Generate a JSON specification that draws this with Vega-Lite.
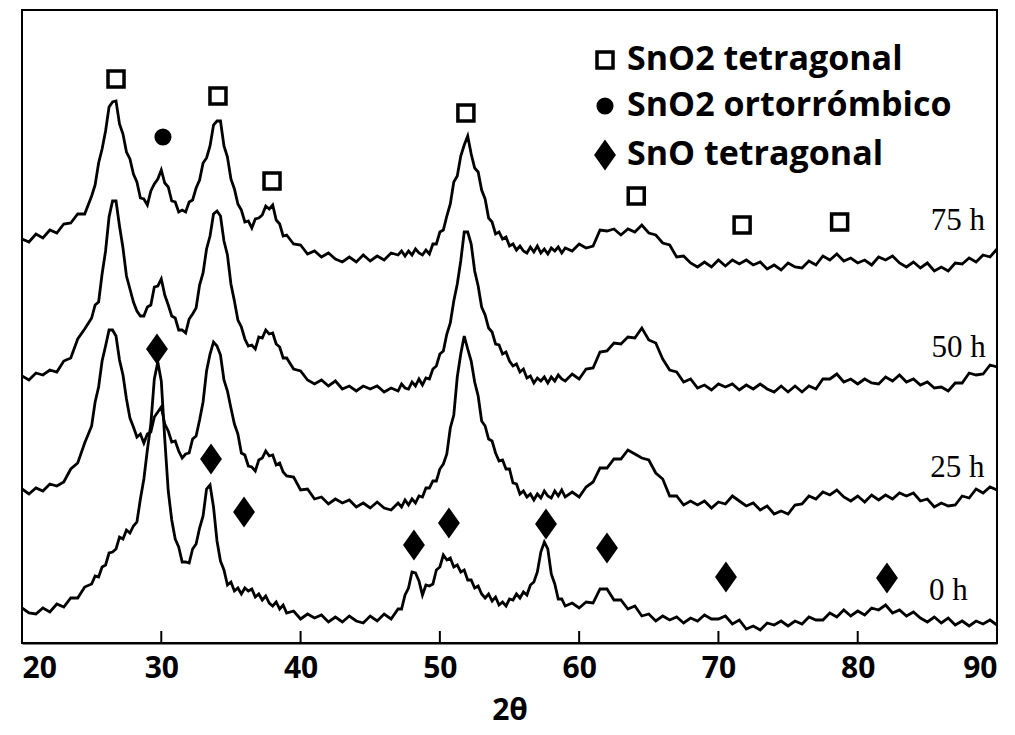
{
"$schema": "https://vega.github.io/schema/vega-lite/v6.json",
"width": 975, "height": 633,
"padding": {"left": 22, "top": 10, "right": 18, "bottom": 92},
"autosize": {"type": "none"},
"background": "white",
"config": {
  "view": {"stroke": "black", "strokeWidth": 2},
  "font": "Open Sans",
  "legend": {"orient": "none", "legendX": 566, "legendY": 33, "labelFont": "Open Sans", "labelFontWeight": "bold", "labelFontSize": 34, "labelColor": "black", "symbolSize": 256, "symbolStrokeColor": "black", "symbolStrokeWidth": 3.5, "rowPadding": 12, "labelOffset": 5, "labelLimit": 700, "symbolOpacity": 1}
},
"layer": [
{
  "data": {"values": [
{"x":20,"h75":404,"h50":267,"h25":154,"h0":35},
{"x":20.5,"h75":401,"h50":263,"h25":149,"h0":30},
{"x":21,"h75":409,"h50":270,"h25":155,"h0":29},
{"x":21.5,"h75":405,"h50":268,"h25":152,"h0":35},
{"x":22,"h75":413,"h50":273,"h25":159,"h0":31},
{"x":22.5,"h75":410,"h50":271,"h25":157,"h0":39},
{"x":23,"h75":419,"h50":282,"h25":161,"h0":36},
{"x":23.5,"h75":420,"h50":285,"h25":174,"h0":45},
{"x":24,"h75":429,"h50":304,"h25":180,"h0":45},
{"x":24.5,"h75":429,"h50":314,"h25":200,"h0":56},
{"x":25,"h75":447,"h50":325,"h25":217,"h0":59},
{"x":25.25,"h75":458,"h50":338,"h25":241,"h0":67},
{"x":25.5,"h75":480,"h50":341,"h25":256,"h0":66},
{"x":25.75,"h75":494,"h50":369,"h25":282,"h0":76},
{"x":26,"h75":512,"h50":392,"h25":297,"h0":78},
{"x":26.25,"h75":536,"h50":426,"h25":313,"h0":90},
{"x":26.5,"h75":541,"h50":442,"h25":313,"h0":91},
{"x":26.75,"h75":542,"h50":442,"h25":307,"h0":94},
{"x":27,"h75":519,"h50":417,"h25":283,"h0":106},
{"x":27.25,"h75":509,"h50":395,"h25":268,"h0":104},
{"x":27.5,"h75":491,"h50":367,"h25":244,"h0":113},
{"x":27.75,"h75":484,"h50":354,"h25":225,"h0":110},
{"x":28,"h75":469,"h50":341,"h25":216,"h0":117},
{"x":28.25,"h75":461,"h50":332,"h25":206,"h0":121},
{"x":28.5,"h75":445,"h50":327,"h25":209,"h0":144},
{"x":28.75,"h75":444,"h50":327,"h25":200,"h0":164},
{"x":29,"h75":438,"h50":336,"h25":209,"h0":193},
{"x":29.25,"h75":452,"h50":338,"h25":211,"h0":219},
{"x":29.5,"h75":459,"h50":356,"h25":226,"h0":264},
{"x":29.75,"h75":464,"h50":357,"h25":231,"h0":281},
{"x":30,"h75":473,"h50":364,"h25":236,"h0":262},
{"x":30.25,"h75":460,"h50":348,"h25":219,"h0":204},
{"x":30.5,"h75":456,"h50":338,"h25":212,"h0":152},
{"x":30.75,"h75":442,"h50":327,"h25":201,"h0":123},
{"x":31,"h75":441,"h50":325,"h25":202,"h0":104},
{"x":31.25,"h75":431,"h50":313,"h25":192,"h0":96},
{"x":31.5,"h75":433,"h50":313,"h25":185,"h0":81},
{"x":31.75,"h75":431,"h50":310,"h25":189,"h0":81},
{"x":32,"h75":441,"h50":324,"h25":190,"h0":80},
{"x":32.25,"h75":443,"h50":329,"h25":204,"h0":94},
{"x":32.5,"h75":455,"h50":335,"h25":207,"h0":99},
{"x":32.75,"h75":463,"h50":358,"h25":223,"h0":115},
{"x":33,"h75":480,"h50":370,"h25":241,"h0":127},
{"x":33.25,"h75":485,"h50":394,"h25":272,"h0":154},
{"x":33.5,"h75":497,"h50":407,"h25":289,"h0":158},
{"x":33.75,"h75":518,"h50":429,"h25":301,"h0":136},
{"x":34,"h75":522,"h50":432,"h25":297,"h0":102},
{"x":34.25,"h75":522,"h50":427,"h25":288,"h0":82},
{"x":34.5,"h75":497,"h50":402,"h25":263,"h0":73},
{"x":34.75,"h75":486,"h50":388,"h25":252,"h0":58},
{"x":35,"h75":464,"h50":359,"h25":235,"h0":61},
{"x":35.25,"h75":454,"h50":342,"h25":219,"h0":52},
{"x":35.5,"h75":439,"h50":323,"h25":209,"h0":55},
{"x":35.75,"h75":433,"h50":316,"h25":190,"h0":49},
{"x":36,"h75":421,"h50":304,"h25":188,"h0":55},
{"x":36.25,"h75":422,"h50":297,"h25":177,"h0":52},
{"x":36.5,"h75":415,"h50":298,"h25":176,"h0":54},
{"x":36.75,"h75":424,"h50":294,"h25":172,"h0":46},
{"x":37,"h75":425,"h50":306,"h25":183,"h0":49},
{"x":37.25,"h75":428,"h50":305,"h25":185,"h0":43},
{"x":37.5,"h75":437,"h50":313,"h25":192,"h0":47},
{"x":37.75,"h75":434,"h50":309,"h25":187,"h0":40},
{"x":38,"h75":438,"h50":310,"h25":188,"h0":37},
{"x":38.25,"h75":423,"h50":299,"h25":178,"h0":41},
{"x":38.5,"h75":419,"h50":296,"h25":180,"h0":34},
{"x":38.75,"h75":407,"h50":285,"h25":171,"h0":38},
{"x":39,"h75":408,"h50":285,"h25":167,"h0":30},
{"x":39.5,"h75":399,"h50":274,"h25":166,"h0":32},
{"x":40,"h75":398,"h50":272,"h25":153,"h0":24},
{"x":40.5,"h75":389,"h50":263,"h25":154,"h0":29},
{"x":41,"h75":392,"h50":259,"h25":144,"h0":25},
{"x":41.5,"h75":386,"h50":263,"h25":146,"h0":28},
{"x":42,"h75":390,"h50":257,"h25":139,"h0":21},
{"x":42.5,"h75":384,"h50":262,"h25":144,"h0":26},
{"x":43,"h75":381,"h50":254,"h25":140,"h0":21},
{"x":43.5,"h75":386,"h50":257,"h25":143,"h0":27},
{"x":44,"h75":381,"h50":252,"h25":136,"h0":22},
{"x":44.5,"h75":388,"h50":257,"h25":140,"h0":20},
{"x":45,"h75":382,"h50":254,"h25":135,"h0":27},
{"x":45.5,"h75":387,"h50":257,"h25":141,"h0":22},
{"x":46,"h75":383,"h50":251,"h25":135,"h0":29},
{"x":46.5,"h75":390,"h50":255,"h25":133,"h0":24},
{"x":47,"h75":388,"h50":252,"h25":140,"h0":34},
{"x":47.25,"h75":392,"h50":259,"h25":136,"h0":34},
{"x":47.5,"h75":387,"h50":255,"h25":143,"h0":48},
{"x":47.75,"h75":392,"h50":254,"h25":138,"h0":55},
{"x":48,"h75":388,"h50":261,"h25":144,"h0":71},
{"x":48.25,"h75":394,"h50":257,"h25":140,"h0":70},
{"x":48.5,"h75":390,"h50":264,"h25":147,"h0":62},
{"x":48.75,"h75":388,"h50":258,"h25":146,"h0":48},
{"x":49,"h75":393,"h50":265,"h25":155,"h0":58},
{"x":49.25,"h75":389,"h50":264,"h25":155,"h0":57},
{"x":49.5,"h75":399,"h50":274,"h25":162,"h0":59},
{"x":49.75,"h75":399,"h50":277,"h25":162,"h0":73},
{"x":50,"h75":411,"h50":289,"h25":174,"h0":76},
{"x":50.25,"h75":413,"h50":292,"h25":179,"h0":88},
{"x":50.5,"h75":427,"h50":309,"h25":189,"h0":83},
{"x":50.75,"h75":439,"h50":320,"h25":215,"h0":85},
{"x":51,"h75":461,"h50":342,"h25":228,"h0":76},
{"x":51.25,"h75":467,"h50":359,"h25":266,"h0":78},
{"x":51.5,"h75":487,"h50":382,"h25":289,"h0":71},
{"x":51.75,"h75":498,"h50":411,"h25":307,"h0":73},
{"x":52,"h75":507,"h50":411,"h25":294,"h0":63},
{"x":52.25,"h75":489,"h50":399,"h25":282,"h0":63},
{"x":52.5,"h75":475,"h50":372,"h25":261,"h0":55},
{"x":52.75,"h75":471,"h50":357,"h25":247,"h0":57},
{"x":53,"h75":453,"h50":336,"h25":222,"h0":49},
{"x":53.25,"h75":444,"h50":328,"h25":217,"h0":45},
{"x":53.5,"h75":425,"h50":315,"h25":204,"h0":49},
{"x":53.75,"h75":421,"h50":311,"h25":202,"h0":42},
{"x":54,"h75":409,"h50":299,"h25":190,"h0":46},
{"x":54.25,"h75":411,"h50":298,"h25":182,"h0":38},
{"x":54.5,"h75":404,"h50":289,"h25":183,"h0":41},
{"x":54.75,"h75":406,"h50":291,"h25":174,"h0":37},
{"x":55,"h75":397,"h50":282,"h25":174,"h0":44},
{"x":55.25,"h75":399,"h50":277,"h25":160,"h0":43},
{"x":55.5,"h75":393,"h50":279,"h25":159,"h0":49},
{"x":55.75,"h75":397,"h50":271,"h25":149,"h0":45},
{"x":56,"h75":392,"h50":274,"h25":152,"h0":51},
{"x":56.25,"h75":390,"h50":265,"h25":146,"h0":48},
{"x":56.5,"h75":396,"h50":267,"h25":149,"h0":58},
{"x":56.75,"h75":391,"h50":260,"h25":143,"h0":61},
{"x":57,"h75":397,"h50":265,"h25":149,"h0":71},
{"x":57.25,"h75":390,"h50":262,"h25":145,"h0":91},
{"x":57.5,"h75":394,"h50":266,"h25":152,"h0":101},
{"x":57.75,"h75":389,"h50":260,"h25":147,"h0":94},
{"x":58,"h75":395,"h50":266,"h25":145,"h0":69},
{"x":58.25,"h75":392,"h50":262,"h25":152,"h0":59},
{"x":58.5,"h75":396,"h50":268,"h25":147,"h0":44},
{"x":58.75,"h75":390,"h50":264,"h25":153,"h0":44},
{"x":59,"h75":395,"h50":262,"h25":146,"h0":37},
{"x":59.5,"h75":392,"h50":269,"h25":151,"h0":40},
{"x":60,"h75":399,"h50":264,"h25":146,"h0":35},
{"x":60.5,"h75":395,"h50":274,"h25":156,"h0":41},
{"x":61,"h75":397,"h50":275,"h25":161,"h0":40},
{"x":61.5,"h75":413,"h50":291,"h25":175,"h0":54},
{"x":62,"h75":412,"h50":292,"h25":175,"h0":54},
{"x":62.5,"h75":414,"h50":300,"h25":184,"h0":43},
{"x":63,"h75":408,"h50":299,"h25":184,"h0":43},
{"x":63.5,"h75":414,"h50":306,"h25":193,"h0":34},
{"x":64,"h75":411,"h50":305,"h25":189,"h0":37},
{"x":64.5,"h75":418,"h50":315,"h25":185,"h0":27},
{"x":65,"h75":410,"h50":303,"h25":183,"h0":29},
{"x":65.5,"h75":408,"h50":300,"h25":170,"h0":22},
{"x":66,"h75":400,"h50":284,"h25":164,"h0":27},
{"x":66.5,"h75":398,"h50":273,"h25":147,"h0":23},
{"x":67,"h75":386,"h50":271,"h25":147,"h0":26},
{"x":67.5,"h75":387,"h50":261,"h25":138,"h0":20},
{"x":68,"h75":380,"h50":264,"h25":142,"h0":25},
{"x":68.5,"h75":376,"h50":255,"h25":138,"h0":22},
{"x":69,"h75":381,"h50":258,"h25":142,"h0":28},
{"x":69.5,"h75":376,"h50":253,"h25":135,"h0":24},
{"x":70,"h75":383,"h50":259,"h25":141,"h0":24},
{"x":70.5,"h75":377,"h50":256,"h25":139,"h0":27},
{"x":71,"h75":383,"h50":259,"h25":147,"h0":19},
{"x":71.5,"h75":379,"h50":253,"h25":142,"h0":23},
{"x":72,"h75":383,"h50":258,"h25":137,"h0":14},
{"x":72.5,"h75":378,"h50":254,"h25":140,"h0":17},
{"x":73,"h75":381,"h50":259,"h25":133,"h0":13},
{"x":73.5,"h75":374,"h50":254,"h25":137,"h0":20},
{"x":74,"h75":378,"h50":251,"h25":129,"h0":18},
{"x":74.5,"h75":373,"h50":257,"h25":132,"h0":22},
{"x":75,"h75":380,"h50":251,"h25":129,"h0":17},
{"x":75.5,"h75":376,"h50":257,"h25":138,"h0":22},
{"x":76,"h75":375,"h50":251,"h25":139,"h0":19},
{"x":76.5,"h75":382,"h50":257,"h25":147,"h0":26},
{"x":77,"h75":378,"h50":254,"h25":144,"h0":23},
{"x":77.5,"h75":387,"h50":264,"h25":151,"h0":23},
{"x":78,"h75":383,"h50":264,"h25":148,"h0":30},
{"x":78.5,"h75":389,"h50":269,"h25":153,"h0":26},
{"x":79,"h75":382,"h50":261,"h25":146,"h0":33},
{"x":79.5,"h75":385,"h50":264,"h25":142,"h0":27},
{"x":80,"h75":380,"h50":259,"h25":147,"h0":32},
{"x":80.5,"h75":383,"h50":264,"h25":141,"h0":28},
{"x":81,"h75":378,"h50":260,"h25":148,"h0":35},
{"x":81.5,"h75":386,"h50":259,"h25":143,"h0":33},
{"x":82,"h75":383,"h50":266,"h25":148,"h0":38},
{"x":82.5,"h75":387,"h50":262,"h25":144,"h0":30},
{"x":83,"h75":380,"h50":268,"h25":150,"h0":33},
{"x":83.5,"h75":376,"h50":261,"h25":147,"h0":27},
{"x":84,"h75":381,"h50":264,"h25":150,"h0":31},
{"x":84.5,"h75":375,"h50":258,"h25":142,"h0":25},
{"x":85,"h75":380,"h50":261,"h25":144,"h0":21},
{"x":85.5,"h75":372,"h50":255,"h25":136,"h0":26},
{"x":86,"h75":376,"h50":256,"h25":140,"h0":20},
{"x":86.5,"h75":372,"h50":252,"h25":137,"h0":25},
{"x":87,"h75":380,"h50":260,"h25":138,"h0":18},
{"x":87.5,"h75":379,"h50":260,"h25":147,"h0":22},
{"x":88,"h75":385,"h50":270,"h25":145,"h0":17},
{"x":88.5,"h75":381,"h50":268,"h25":154,"h0":22},
{"x":89,"h75":388,"h50":269,"h25":150,"h0":19},
{"x":89.5,"h75":386,"h50":278,"h25":156,"h0":23},
{"x":90,"h75":394,"h50":276,"h25":153,"h0":18}
  ]},
  "transform": [{"fold": ["h75", "h50", "h25", "h0"], "as": ["series", "intensity"]}],
  "mark": {"type": "line", "color": "black", "strokeWidth": 2.8, "clip": true},
  "encoding": {
    "x": {"field": "x", "type": "quantitative", "scale": {"domain": [20, 90], "nice": false, "zero": false},
      "axis": {"values": [20, 30, 40, 50, 60, 70, 80, 90], "title": "2θ", "grid": false, "labelFlush": true, "ticks": false,
        "labelFont": "Open Sans", "labelFontWeight": "bold", "labelFontSize": 30, "labelColor": "black", "labelPadding": 10,
        "domainColor": "black", "domainWidth": 2,
        "titleFont": "Open Sans", "titleFontWeight": "bold", "titleFontSize": 30, "titleColor": "black", "titlePadding": 12}},
    "y": {"field": "intensity", "type": "quantitative", "scale": {"domain": [0, 633], "nice": false, "zero": false}, "axis": null},
    "detail": {"field": "series"}
  }
},
{
  "data": {"values": [{"t": 30}, {"t": 40}, {"t": 50}, {"t": 60}, {"t": 70}, {"t": 80}]},
  "mark": {"type": "rule", "color": "black", "strokeWidth": 2},
  "encoding": {
    "x": {"field": "t", "type": "quantitative"},
    "y": {"datum": 0},
    "y2": {"datum": 12}
  }
},
{
  "data": {"values": [
    {"phase": "SnO2 tetragonal", "x": 26.75, "y": 564},
    {"phase": "SnO2 tetragonal", "x": 34.07, "y": 547},
    {"phase": "SnO2 tetragonal", "x": 37.95, "y": 462},
    {"phase": "SnO2 tetragonal", "x": 51.87, "y": 530},
    {"phase": "SnO2 tetragonal", "x": 64.1, "y": 447},
    {"phase": "SnO2 tetragonal", "x": 71.7, "y": 418},
    {"phase": "SnO2 tetragonal", "x": 78.7, "y": 421},
    {"phase": "SnO2 ortorrómbico", "x": 30.12, "y": 506},
    {"phase": "SnO tetragonal", "x": 29.69, "y": 294},
    {"phase": "SnO tetragonal", "x": 33.57, "y": 184},
    {"phase": "SnO tetragonal", "x": 35.94, "y": 131},
    {"phase": "SnO tetragonal", "x": 48.14, "y": 98},
    {"phase": "SnO tetragonal", "x": 50.65, "y": 120},
    {"phase": "SnO tetragonal", "x": 57.62, "y": 119},
    {"phase": "SnO tetragonal", "x": 62.0, "y": 95},
    {"phase": "SnO tetragonal", "x": 70.54, "y": 66},
    {"phase": "SnO tetragonal", "x": 82.1, "y": 65}
  ]},
  "mark": {"type": "point", "filled": true, "stroke": "black", "strokeWidth": 3.5, "opacity": 1, "size": 256},
  "encoding": {
    "x": {"field": "x", "type": "quantitative"},
    "y": {"field": "y", "type": "quantitative"},
    "shape": {"field": "phase", "type": "nominal",
      "scale": {"domain": ["SnO2 tetragonal", "SnO2 ortorrómbico", "SnO tetragonal"], "range": ["M-1,-1H1V1H-1Z", "M-0.85,0A0.85,0.85 0 1,0 0.85,0A0.85,0.85 0 1,0 -0.85,0Z", "M0,-1.55L1.1,0L0,1.55L-1.1,0Z"]},
      "legend": {"title": null, "symbolStrokeColor": "black", "symbolStrokeWidth": 3.5, "encode": {"symbols": {"update": {"stroke": {"value": "black"}, "strokeWidth": {"value": 3.5}}}}}},
    "fill": {"field": "phase", "type": "nominal",
      "scale": {"domain": ["SnO2 tetragonal", "SnO2 ortorrómbico", "SnO tetragonal"], "range": ["white", "black", "black"]},
      "legend": {"title": null, "symbolStrokeColor": "black", "symbolStrokeWidth": 3.5, "encode": {"symbols": {"update": {"stroke": {"value": "black"}, "strokeWidth": {"value": 3.5}}}}}}
  }
},
{
  "data": {"values": [
    {"label": "75 h", "x": 89.13, "y": 422},
    {"label": "50 h", "x": 89.2, "y": 295},
    {"label": "25 h", "x": 89.1, "y": 175},
    {"label": "0 h", "x": 87.9, "y": 52}
  ]},
  "mark": {"type": "text", "align": "right", "baseline": "middle", "font": "Liberation Serif", "fontSize": 31, "color": "black"},
  "encoding": {
    "x": {"field": "x", "type": "quantitative"},
    "y": {"field": "y", "type": "quantitative"},
    "text": {"field": "label"}
  }
}
]
}
